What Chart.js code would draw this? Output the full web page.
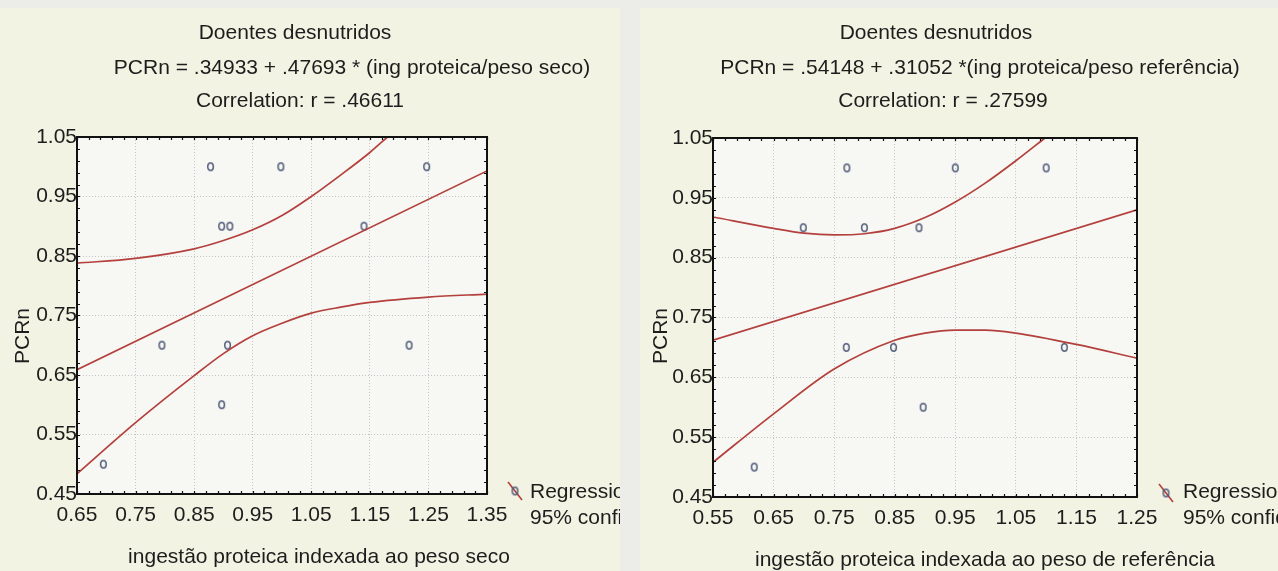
<!DOCTYPE html>
<html>
<head>
<meta charset="utf-8">
<script src="https://cdn.jsdelivr.net/npm/chart.js@4.4.1/dist/chart.umd.min.js"></script>
<style>
  html, body { margin: 0; padding: 0; }
  body { width: 1278px; height: 571px; background: #ecece9; position: relative; overflow: hidden; }
  .panel { position: absolute; top: 8px; height: 563px; }
  #leftPanel { left: 0; width: 620px; }
  #rightPanel { left: 640px; width: 638px; }
</style>
</head>
<body>
<div class="panel" id="leftPanel"><canvas id="leftChart"></canvas></div>
<div class="panel" id="rightPanel"><canvas id="rightChart"></canvas></div>
<script>
// ---- dados ----
const yTicks = [0.45, 0.55, 0.65, 0.75, 0.85, 0.95, 1.05];

// gráfico da esquerda (peso seco)
const leftXTicks = [0.65, 0.75, 0.85, 0.95, 1.05, 1.15, 1.25, 1.35];
const leftPointsX = [0.695, 0.795, 0.878, 0.897, 0.911, 0.897, 0.907, 0.998, 1.14, 1.217, 1.247];
const leftPointsY = [0.50, 0.70, 1.00, 0.90, 0.90, 0.60, 0.70, 1.00, 0.90, 0.70, 1.00];
const leftFitX = [0.65, 1.35];
const leftFitY = [0.659, 0.993];
const leftUpperX = [0.65, 0.75, 0.85, 0.90, 0.95, 1.00, 1.05, 1.10, 1.15, 1.18];
const leftUpperY = [0.838, 0.846, 0.862, 0.876, 0.894, 0.918, 0.950, 0.986, 1.024, 1.050];
const leftLowerX = [0.65, 0.75, 0.85, 0.90, 0.95, 1.00, 1.05, 1.10, 1.15, 1.25, 1.35];
const leftLowerY = [0.484, 0.570, 0.649, 0.686, 0.716, 0.737, 0.754, 0.764, 0.772, 0.781, 0.786];
const leftTitles = [
  "Doentes desnutridos",
  "PCRn = .34933 + .47693 * (ing proteica/peso seco)",
  "Correlation: r = .46611",
];
const leftXTitle = "ingestão proteica indexada ao peso seco";

// gráfico da direita (peso de referência)
const rightXTicks = [0.55, 0.65, 0.75, 0.85, 0.95, 1.05, 1.15, 1.25];
const rightPointsX = [0.618, 0.699, 0.771, 0.80, 0.89, 0.77, 0.848, 0.897, 0.95, 1.10, 1.13];
const rightPointsY = [0.50, 0.90, 1.00, 0.90, 0.90, 0.70, 0.70, 0.60, 1.00, 1.00, 0.70];
const rightFitX = [0.55, 1.25];
const rightFitY = [0.712, 0.930];
const rightUpperX = [0.55, 0.65, 0.70, 0.75, 0.80, 0.85, 0.90, 0.95, 1.00, 1.05, 1.098];
const rightUpperY = [0.918, 0.899, 0.891, 0.888, 0.890, 0.899, 0.917, 0.943, 0.975, 1.012, 1.050];
const rightLowerX = [0.55, 0.65, 0.75, 0.85, 0.90, 0.95, 1.00, 1.05, 1.15, 1.25];
const rightLowerY = [0.508, 0.589, 0.664, 0.712, 0.724, 0.729, 0.729, 0.724, 0.705, 0.682];
const rightTitles = [
  "Doentes desnutridos",
  "PCRn = .54148 + .31052 *(ing proteica/peso referência)",
  "Correlation: r = .27599",
];
const rightXTitle = "ingestão proteica indexada ao peso de referência";

const yTitle = "PCRn";
const legendLabels = ["Regression", "95% confid."];

// ---- estilo ----
const FONT = "'Liberation Sans', Arial, sans-serif";
const TEXT = "#1d1d1d";
const RED = "#b3403c";
const PANEL = "#f2f3e3";
const PLOT = "#f7f7f4";

const zip = (xs, ys) => xs.map((x, i) => ({ x: x, y: ys[i] }));

// marcador "o" como no original
function makeGlyph() {
  const c = document.createElement("canvas");
  c.width = 9;
  c.height = 11;
  const g = c.getContext("2d");
  g.strokeStyle = "#4f5a78";
  g.lineWidth = 1.5;
  g.beginPath();
  g.ellipse(4.5, 5.5, 2.8, 3.8, 0, 0, Math.PI * 2);
  g.stroke();
  return c;
}
const glyph = makeGlyph();

/**
 * Plugin de decoração: fundos, caixa, títulos e legenda
 */
function makeDecor(cfg) {
  return {
    id: "decor",
    beforeDraw(chart) {
      const { ctx, chartArea: a } = chart;
      ctx.save();
      ctx.fillStyle = PANEL;
      ctx.fillRect(0, 0, chart.width, chart.height);
      ctx.fillStyle = PLOT;
      ctx.fillRect(a.left, a.top, a.right - a.left, a.bottom - a.top);
      ctx.restore();
    },
    afterDatasetsDraw(chart) {
      const { ctx, chartArea: a } = chart;
      const xs = chart.scales.x;
      const ys = chart.scales.y;
      ctx.save();

      // caixa
      ctx.strokeStyle = "#111";
      ctx.lineWidth = 2;
      ctx.strokeRect(a.left, a.top, a.right - a.left, a.bottom - a.top);

      // marcas menores para dentro
      ctx.lineWidth = 1.2;
      ctx.beginPath();
      for (let v = xs.min; v <= xs.max + 1e-9; v += 0.02) {
        const px = Math.round(xs.getPixelForValue(v)) + 0.5;
        ctx.moveTo(px, a.bottom);
        ctx.lineTo(px, a.bottom - 3);
        ctx.moveTo(px, a.top);
        ctx.lineTo(px, a.top + 3);
      }
      for (let v = ys.min; v <= ys.max + 1e-9; v += 0.02) {
        const py = Math.round(ys.getPixelForValue(v)) + 0.5;
        ctx.moveTo(a.left, py);
        ctx.lineTo(a.left + 3, py);
        ctx.moveTo(a.right, py);
        ctx.lineTo(a.right - 3, py);
      }
      ctx.stroke();

      // títulos
      ctx.fillStyle = TEXT;
      ctx.font = "21px " + FONT;
      ctx.textAlign = "center";
      ctx.textBaseline = "middle";
      cfg.titles.forEach((t, i) => {
        ctx.fillText(t, cfg.titlePos[i][0], cfg.titlePos[i][1]);
      });

      // título do eixo x
      ctx.fillText(cfg.xTitle, cfg.xTitlePos[0], cfg.xTitlePos[1]);

      // título do eixo y
      ctx.save();
      ctx.translate(cfg.yTitlePos[0], cfg.yTitlePos[1]);
      ctx.rotate(-Math.PI / 2);
      ctx.fillText(yTitle, 0, 0);
      ctx.restore();

      // legenda
      const [sx, sy] = cfg.legendSymbol;
      ctx.strokeStyle = RED;
      ctx.lineWidth = 1.6;
      ctx.beginPath();
      ctx.moveTo(sx - 7, sy - 9);
      ctx.lineTo(sx + 7, sy + 9);
      ctx.stroke();
      ctx.drawImage(glyph, sx - 4.5, sy - 5.5);
      ctx.textAlign = "left";
      legendLabels.forEach((t, i) => {
        ctx.fillText(t, cfg.legendText[0], cfg.legendText[1] + i * 26);
      });

      ctx.restore();
    },
  };
}

function buildChart(id, cfg) {
  const lineStyle = {
    showLine: true,
    borderColor: RED,
    borderWidth: 1.7,
    pointRadius: 0,
    cubicInterpolationMode: "monotone",
    clip: 0,
  };
  const tickFont = { family: FONT, size: 21 };

  return new Chart(document.getElementById(id), {
    type: "scatter",
    data: {
      datasets: [
        Object.assign({ label: "Regression", data: zip(cfg.fitX, cfg.fitY) }, lineStyle),
        Object.assign({ label: "95% sup", data: zip(cfg.upperX, cfg.upperY) }, lineStyle),
        Object.assign({ label: "95% inf", data: zip(cfg.lowerX, cfg.lowerY) }, lineStyle),
        {
          label: "PCRn",
          data: zip(cfg.pointsX, cfg.pointsY),
          pointStyle: glyph,
          pointRadius: 4,
          showLine: false,
          clip: false,
        },
      ],
    },
    options: {
      responsive: true,
      maintainAspectRatio: false,
      animation: false,
      events: [],
      layout: { padding: { left: 0, top: cfg.padTop, right: cfg.padRight, bottom: 0 } },
      plugins: {
        legend: { display: false },
        tooltip: { enabled: false },
      },
      scales: {
        x: {
          type: "linear",
          min: cfg.xTicks[0],
          max: cfg.xTicks[cfg.xTicks.length - 1],
          afterBuildTicks: (s) => {
            s.ticks = cfg.xTicks.map((v) => ({ value: v }));
          },
          afterFit: (s) => {
            s.height = cfg.xHeight;
          },
          grid: { color: "#c4c4c4", lineWidth: 1, drawTicks: false },
          border: { display: false, dash: [1, 2] },
          ticks: {
            autoSkip: false,
            maxRotation: 0,
            padding: 9,
            color: TEXT,
            font: tickFont,
            callback: (v) => v.toFixed(2),
          },
        },
        y: {
          type: "linear",
          min: yTicks[0],
          max: yTicks[yTicks.length - 1],
          afterBuildTicks: (s) => {
            s.ticks = yTicks.map((v) => ({ value: v }));
          },
          afterFit: (s) => {
            s.width = cfg.yWidth;
          },
          grid: { color: "#c4c4c4", lineWidth: 1, drawTicks: false },
          border: { display: false, dash: [1, 2] },
          ticks: {
            autoSkip: false,
            padding: 0,
            color: TEXT,
            font: tickFont,
            callback: (v) => v.toFixed(2),
          },
        },
      },
    },
    plugins: [makeDecor(cfg)],
  });
}

buildChart("leftChart", {
  xTicks: leftXTicks,
  pointsX: leftPointsX, pointsY: leftPointsY,
  fitX: leftFitX, fitY: leftFitY,
  upperX: leftUpperX, upperY: leftUpperY,
  lowerX: leftLowerX, lowerY: leftLowerY,
  titles: leftTitles,
  xTitle: leftXTitle,
  padTop: 129, padRight: 133, xHeight: 77, yWidth: 77,
  titlePos: [[295, 25], [352, 60], [300, 93]],
  xTitlePos: [319, 549],
  yTitlePos: [23, 328],
  legendSymbol: [515, 483],
  legendText: [530, 484],
});

buildChart("rightChart", {
  xTicks: rightXTicks,
  pointsX: rightPointsX, pointsY: rightPointsY,
  fitX: rightFitX, fitY: rightFitY,
  upperX: rightUpperX, upperY: rightUpperY,
  lowerX: rightLowerX, lowerY: rightLowerY,
  titles: rightTitles,
  xTitle: rightXTitle,
  padTop: 130, padRight: 141, xHeight: 74, yWidth: 73,
  titlePos: [[296, 25], [340, 60], [303, 93]],
  xTitlePos: [345, 552],
  yTitlePos: [21, 328],
  legendSymbol: [526, 485],
  legendText: [543, 484],
});
</script>
</body>
</html>
